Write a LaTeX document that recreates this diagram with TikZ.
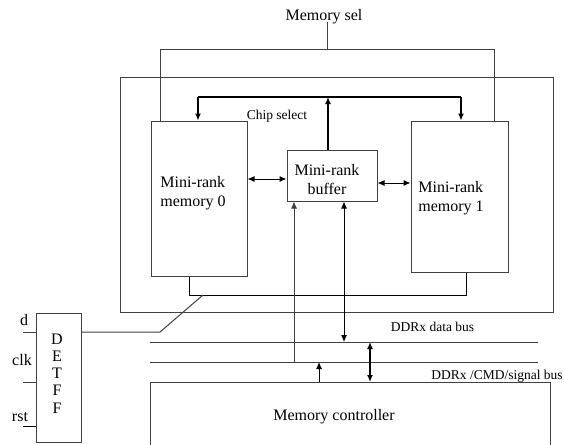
\documentclass[tikz,border=0pt]{standalone}
\usepackage{fontspec}
\setmainfont{Liberation Serif}
\usetikzlibrary{arrows.meta}
\begin{document}
\begin{tikzpicture}[x=1pt,y=-1pt,
  ln/.style={draw=black!75,line width=1pt},
  box/.style={ln,rectangle,inner sep=0pt},
  arr/.style={ln,-{Latex[length=7pt,width=6pt]}},
  darr/.style={ln,{Latex[length=7pt,width=6pt]}-{Latex[length=7pt,width=6pt]}},
  big/.style={font=\fontsize{16}{19}\selectfont,inner sep=0pt},
  small/.style={font=\fontsize{13.5}{16}\selectfont,inner sep=0pt}]
\path[use as bounding box,fill=white] (0,0) rectangle (564,444);
% boxes
\node[box,minimum width=433pt,minimum height=235pt] (outer) at (336.5,194.5) {};
\node[box,minimum width=96pt,minimum height=155pt] (m0) at (199,198.5) {};
\node[box,minimum width=97pt,minimum height=151pt] (m1) at (459.5,196.5) {};
\node[box,minimum width=90pt,minimum height=51pt] (buf) at (332,175.5) {};
\node[box,minimum width=45pt,minimum height=129pt] (det) at (58.5,377.5) {};
\draw[ln] (150,446) |- (550,382) -- (550,446);
\node[big,align=left] (m0t) at (193,193) {Mini-rank\\memory 0};
\node[big,align=left] (m1t) at (451,198) {Mini-rank\\memory 1};
\node[big,align=center] (buft) at (327,180) {Mini-rank\\buffer};
\node[big] (mc) at (334,417) {Memory controller};
\node[big,align=center,font=\fontsize{16}{17.25}\selectfont] (dt) at (57,373.5) {D\\E\\T\\F\\F};
\node[big] (ms) at (324,17) {Memory sel};
\node[small] (cs) at (277,116) {Chip select};
\node[small] (db) at (432.5,327) {DDRx data bus};
\node[small] (cb) at (497,376) {DDRx /CMD/signal bus};
\node[big] (dl) at (24,320) {d};
\node[big] (cl) at (22,360) {clk};
\node[big] (rl) at (20,417) {rst};
% memory sel
\coordinate (mstop) at (327,22);
\draw[ln] (mstop) -- (327,50);
\draw[ln] (m0.north -| 160,0) -- (160,50) -- (494,50) -- (m1.north -| 494,0);
% chip select
\draw[arr,draw=black,line width=1.4pt] (buf.north -| 328,0) -- (328,97);
\draw[ln,draw=black,line width=1.6pt] (198,97) -- (461,97);
\draw[arr,draw=black,line width=1.2pt] (198,97) -- (m0.north -| 198,0);
\draw[arr,draw=black,line width=1.2pt] (461,97) -- (m1.north -| 461,0);
% side arrows
\draw[darr,draw=black] (m0.east |- 0,179) -- (buf.west |- 0,179);
\draw[darr,draw=black] (buf.east |- 0,183) -- (m1.west |- 0,183);
% bottom connections
\draw[ln,draw=black] (m0.south -| 189,0) |- (466,295) -- (m1.south -| 466,0);
\draw[ln] (det.east |- 0,332) -- (160,332) -- (203,295);
% flip-flop inputs
\coordinate (din) at (23,332);
\coordinate (cin) at (23,382);
\coordinate (rin) at (23,426);
\draw[ln] (din) -- (det.west |- din);
\draw[ln] (cin) -- (det.west |- cin);
\draw[ln,draw=black] (rin) -- (det.west |- rin);
% buses
\draw[ln] (150,342) -- (538,342);
\draw[ln] (150,362) -- (538,362);
\draw[arr] (294,362) -- (buf.south -| 294,0);
\draw[darr,draw=black] (344,342) -- (buf.south -| 344,0);
\draw[arr,draw=black] (319,382) -- (319,362);
\draw[darr,draw=black,line width=1.4pt] (370,342) -- (370,382);
\end{tikzpicture}
\end{document}
